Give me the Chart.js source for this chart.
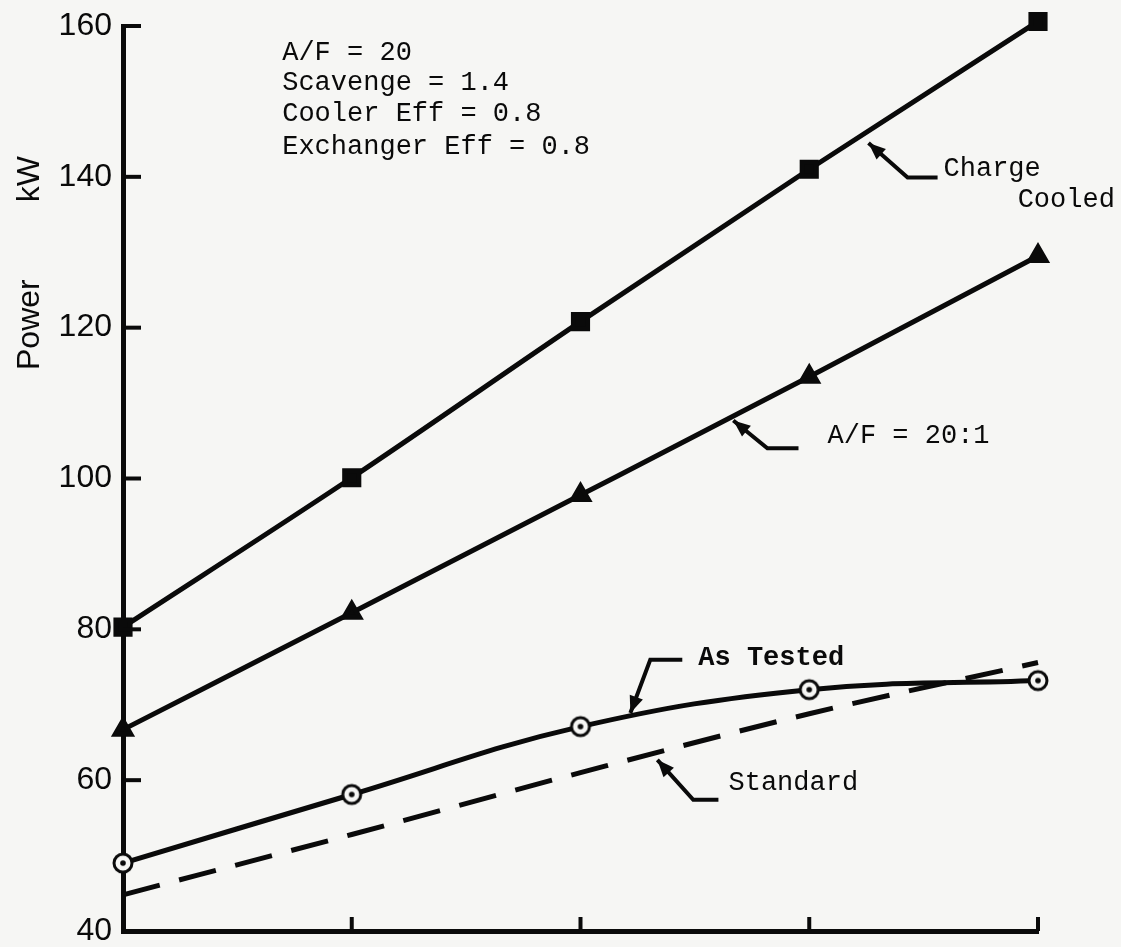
<!DOCTYPE html>
<html><head><meta charset="utf-8">
<script src="https://cdn.jsdelivr.net/npm/chart.js@4/dist/chart.umd.min.js"></script>
<style>html,body{margin:0;padding:0;background:#f6f6f4;} #wrap{width:1121px;height:947px;}</style>
</head><body><div id="wrap"><canvas id="c" width="1121" height="947"></canvas></div>
<script>
// ---- data ----
const xPositions   = [0, 1, 2, 3, 4];
const chargeCooled = [80.3, 100.1, 120.8, 141.0, 160.6];
const afRatio20    = [66.7, 82.2, 97.8, 113.5, 129.5];
const asTested     = [49.0, 58.1, 67.1, 72.0, 73.2];
const standard     = [44.8, 52.8, 61.0, 68.8, 75.6];
const yTickValues  = [40, 60, 80, 100, 120, 140, 160];
const paramLines   = ['A/F = 20', 'Scavenge = 1.4', 'Cooler Eff = 0.8', 'Exchanger Eff = 0.8'];

const BG = '#f6f6f4';
const INK = '#0a0a0a';
const MONO = '"Liberation Mono", "DejaVu Sans Mono", monospace';

function pts(vals){ return vals.map((v,i)=>({x:xPositions[i], y:v})); }

function ringDot(){
  const c=document.createElement('canvas'); c.width=c.height=24;
  const g=c.getContext('2d');
  g.fillStyle=BG; g.beginPath(); g.arc(12,12,9,0,Math.PI*2); g.fill();
  g.lineWidth=3; g.strokeStyle=INK; g.stroke();
  g.fillStyle=INK; g.beginPath(); g.arc(12,12,2.8,0,Math.PI*2); g.fill();
  return c;
}

// annotation anchors in data units
const notes = [
  {text:'Charge', x:3.587, y:141.1, arrow:[[3.561,139.9],[3.430,139.9],[3.259,144.5]]},
  {text:'Cooled', x:3.911, y:136.9},
  {text:'A/F = 20:1', x:3.080, y:105.7, arrow:[[2.953,104.0],[2.817,104.0],[2.668,107.7]]},
  {text:'As Tested', x:2.515, y:76.2, bold:true, arrow:[[2.445,75.96],[2.305,75.96],[2.218,68.9]]},
  {text:'Standard', x:2.647, y:59.7, arrow:[[2.603,57.4],[2.493,57.4],[2.336,62.7]]}
];

const decor = {
  id:'decor',
  afterDraw(chart){
    const ctx=chart.ctx, xs=chart.scales.x, ys=chart.scales.y, ca=chart.chartArea;
    ctx.save();
    ctx.strokeStyle=INK; ctx.fillStyle=INK; ctx.lineWidth=4; ctx.lineCap='butt';
    // inward tick marks
    yTickValues.forEach(v=>{ const py=ys.getPixelForValue(v); ctx.beginPath(); ctx.moveTo(ca.left,py); ctx.lineTo(ca.left+18,py); ctx.stroke(); });
    xPositions.slice(1).forEach(v=>{ const px=xs.getPixelForValue(v); ctx.beginPath(); ctx.moveTo(px,ca.bottom); ctx.lineTo(px,ca.bottom-14); ctx.stroke(); });
    // axis title
    ctx.font='32px "Liberation Sans", Arial, sans-serif';
    ctx.textAlign='center'; ctx.textBaseline='middle';
    [['Power',120.4],['kW',139.7]].forEach(([t,v])=>{
      ctx.save(); ctx.translate(30, ys.getPixelForValue(v)); ctx.rotate(-Math.PI/2); ctx.fillText(t,0,0); ctx.restore();
    });
    // parameter block
    ctx.textAlign='left';
    ctx.font='27px '+MONO;
    const pyv=[156.5,152.5,148.3,144.0];
    paramLines.forEach((t,i)=>ctx.fillText(t, xs.getPixelForValue(0.696), ys.getPixelForValue(pyv[i])));
    // labels + arrows
    notes.forEach(n=>{
      ctx.font=(n.bold?'bold ':'')+'27px '+MONO;
      ctx.fillText(n.text, xs.getPixelForValue(n.x), ys.getPixelForValue(n.y));
      if(n.arrow){
        const p=n.arrow.map(([a,b])=>[xs.getPixelForValue(a), ys.getPixelForValue(b)]);
        ctx.lineWidth=4;
        ctx.beginPath(); ctx.moveTo(p[0][0],p[0][1]);
        for(let i=1;i<p.length;i++) ctx.lineTo(p[i][0],p[i][1]);
        ctx.stroke();
        const [tx,ty]=p[p.length-1], [sx,sy]=p[p.length-2];
        const ang=Math.atan2(ty-sy,tx-sx), L=17, W=7;
        ctx.beginPath();
        ctx.moveTo(tx,ty);
        ctx.lineTo(tx-L*Math.cos(ang)+W*Math.sin(ang), ty-L*Math.sin(ang)-W*Math.cos(ang));
        ctx.lineTo(tx-L*Math.cos(ang)-W*Math.sin(ang), ty-L*Math.sin(ang)+W*Math.cos(ang));
        ctx.closePath(); ctx.fill();
      }
    });
    ctx.restore();
  }
};

const bgPlugin = {
  id:'bg',
  beforeDraw(chart){ const c=chart.ctx; c.save(); c.fillStyle=BG; c.fillRect(0,0,chart.width,chart.height); c.restore(); }
};

new Chart(document.getElementById('c'), {
  type:'line',
  data:{ datasets:[
    {label:'Standard', data:pts(standard), borderColor:INK, borderWidth:5, borderDash:[38,20], pointRadius:0, cubicInterpolationMode:'monotone', clip:false},
    {label:'As Tested', data:pts(asTested), borderColor:INK, borderWidth:5, pointStyle:ringDot(), pointRadius:11, tension:0.4, clip:false},
    {label:'A/F = 20:1', data:pts(afRatio20), borderColor:INK, borderWidth:5, pointStyle:'triangle', pointRadius:9, pointBackgroundColor:INK, pointBorderColor:INK, cubicInterpolationMode:'monotone', clip:false},
    {label:'Charge Cooled', data:pts(chargeCooled), borderColor:INK, borderWidth:5, pointStyle:'rect', pointRadius:10, pointBackgroundColor:INK, pointBorderColor:INK, cubicInterpolationMode:'monotone', clip:false}
  ]},
  options:{
    responsive:false, devicePixelRatio:1, animation:false,
    layout:{padding:{top:26, right:83, bottom:0, left:0}},
    plugins:{legend:{display:false}, tooltip:{enabled:false}},
    scales:{
      x:{type:'linear', min:0, max:4,
        ticks:{display:false},
        grid:{drawOnChartArea:false, drawTicks:false},
        border:{display:true, color:INK, width:5},
        afterFit(s){ s.height=13; }
      },
      y:{type:'linear', min:40, max:160,
        ticks:{stepSize:20, color:INK, padding:11, font:{family:'"Liberation Sans", Arial, sans-serif', size:32}},
        grid:{drawOnChartArea:false, drawTicks:false},
        border:{display:true, color:INK, width:5},
        afterFit(s){ s.width=123; s.paddingTop=0; s.paddingBottom=0; }
      }
    }
  },
  plugins:[bgPlugin, decor]
});
</script>
</body></html>
